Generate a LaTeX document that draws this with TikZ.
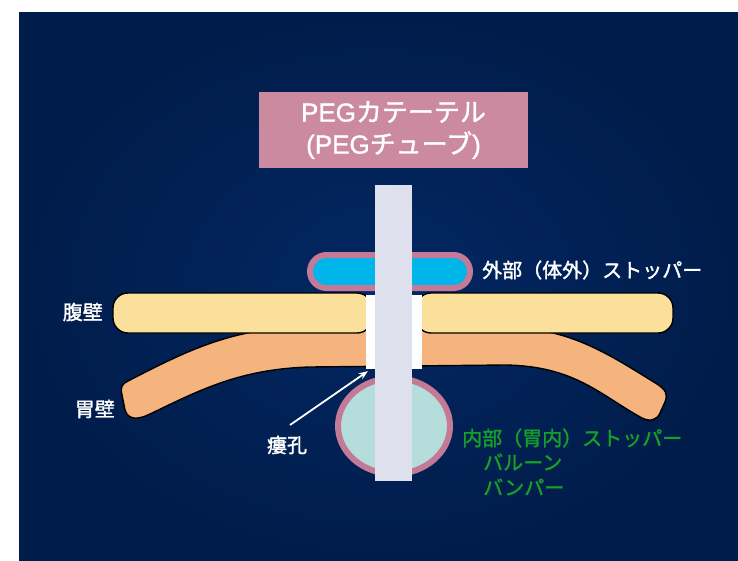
\documentclass[tikz,border=0pt]{standalone}
\usepackage{fontspec}
\setmainfont{Noto Sans CJK JP}[BoldFont={Noto Sans CJK JP}, BoldFeatures={FakeBold=1.5}]
\newfontfamily\latinfont{Liberation Sans}[BoldFont={Liberation Sans}, BoldFeatures={FakeBold=1.2}]
\usetikzlibrary{arrows.meta}
\definecolor{navyout}{RGB}{0,28,74}
\definecolor{navyin}{RGB}{3,40,100}
\definecolor{titlepink}{RGB}{203,138,160}
\definecolor{rimpink}{RGB}{196,122,151}
\definecolor{stopcyan}{RGB}{0,181,234}
\definecolor{balloon}{RGB}{180,221,220}
\definecolor{tubegray}{RGB}{223,224,238}
\definecolor{abdwall}{RGB}{251,224,155}
\definecolor{stomwall}{RGB}{245,180,126}
\definecolor{labgreen}{RGB}{22,160,40}
\tikzset{
  wall/.style={draw=black, line width=1.4pt},
  whitelabel/.style={text=white, inner sep=0pt, font=\fontsize{20}{24}\selectfont\bfseries},
  greenlabel/.style={text=labgreen, inner sep=0pt, anchor=west, font=\fontsize{20}{24}\selectfont\bfseries},
}
\begin{document}
\begin{tikzpicture}[x=1pt, y=-1pt]
  \useasboundingbox (0,0) rectangle (738,560);
  % backdrop
  \fill[white] (0,0) rectangle (738,560);
  \shade[inner color=navyin, outer color=navyout] (19,12) rectangle (738,560);

  % stomach wall (behind the abdominal wall)
  \draw[wall, fill=stomwall]
    (128,381) .. controls (175,357) and (225,330) .. (290,328)
    -- (510,328)
    .. controls (570,328) and (610,355) .. (657,384)
    .. controls (666,390) and (668,394) .. (665,402)
    -- (660,413)
    .. controls (657,420) and (650,422) .. (642,418)
    .. controls (600,395) and (575,366) .. (505,365)
    -- (310,367)
    .. controls (240,369) and (200,390) .. (150,414)
    .. controls (138,420) and (128,420) .. (125,410)
    -- (122,395)
    .. controls (120,387) and (122,384) .. (128,381) -- cycle;

  % abdominal wall, two halves
  \draw[wall, fill=abdwall, rounded corners=15pt] (113,293) rectangle (372,333);
  \draw[wall, fill=abdwall, rounded corners=15pt] (416,293) rectangle (673,333);

  % fistula channel through both walls
  \node[fill=white, inner sep=0pt, minimum width=56pt, minimum height=74pt]
    (fistula) at (394,332) {};

  % external stopper
  \node[draw=rimpink, line width=6pt, fill=stopcyan, rounded corners=16.5pt,
        minimum width=160pt, minimum height=33pt, inner sep=0pt]
    (extstop) at (390,271.5) {};

  % internal balloon
  \draw[rimpink, line width=6pt, fill=balloon] (394,426) ellipse [x radius=56, y radius=48];
  \coordinate (intstop) at (394,426);

  % catheter tube
  \node[fill=tubegray, inner sep=0pt, minimum width=37pt, minimum height=296pt]
    (tube) at (393.5,333) {};

  % title box
  \node[fill=titlepink, text=white, inner sep=0pt, minimum width=269pt, minimum height=76pt,
        align=center, font=\fontsize{26}{32}\selectfont\bfseries]
    (title) at (393.5,130) {{\latinfont PEG}カテーテル\\{\latinfont (PEG}チューブ{\latinfont )}};

  % labels
  \node[whitelabel, anchor=west] (extlab) at (482,270) {外部（体外）ストッパー};
  \node[whitelabel, anchor=east] (abdlab) at (103,312) {腹壁};
  \node[whitelabel, anchor=east] (stomlab) at (115,409) {胃壁};
  \node[whitelabel] (fislab) at (287,445) {瘻孔};
  \node[greenlabel] (intlab1) at (462,438) {内部（胃内）ストッパー};
  \node[greenlabel] (intlab2) at (483,462) {バルーン};
  \node[greenlabel] (intlab3) at (483,487) {バンパー};

  % pointer to the fistula
  \coordinate (fistail) at (290,425);
  \draw[white, line width=1.8pt, -{Stealth[length=9pt, width=7pt]}]
    (fistail) -- ([xshift=2pt, yshift=-2pt]fistula.south west);
\end{tikzpicture}
\end{document}
